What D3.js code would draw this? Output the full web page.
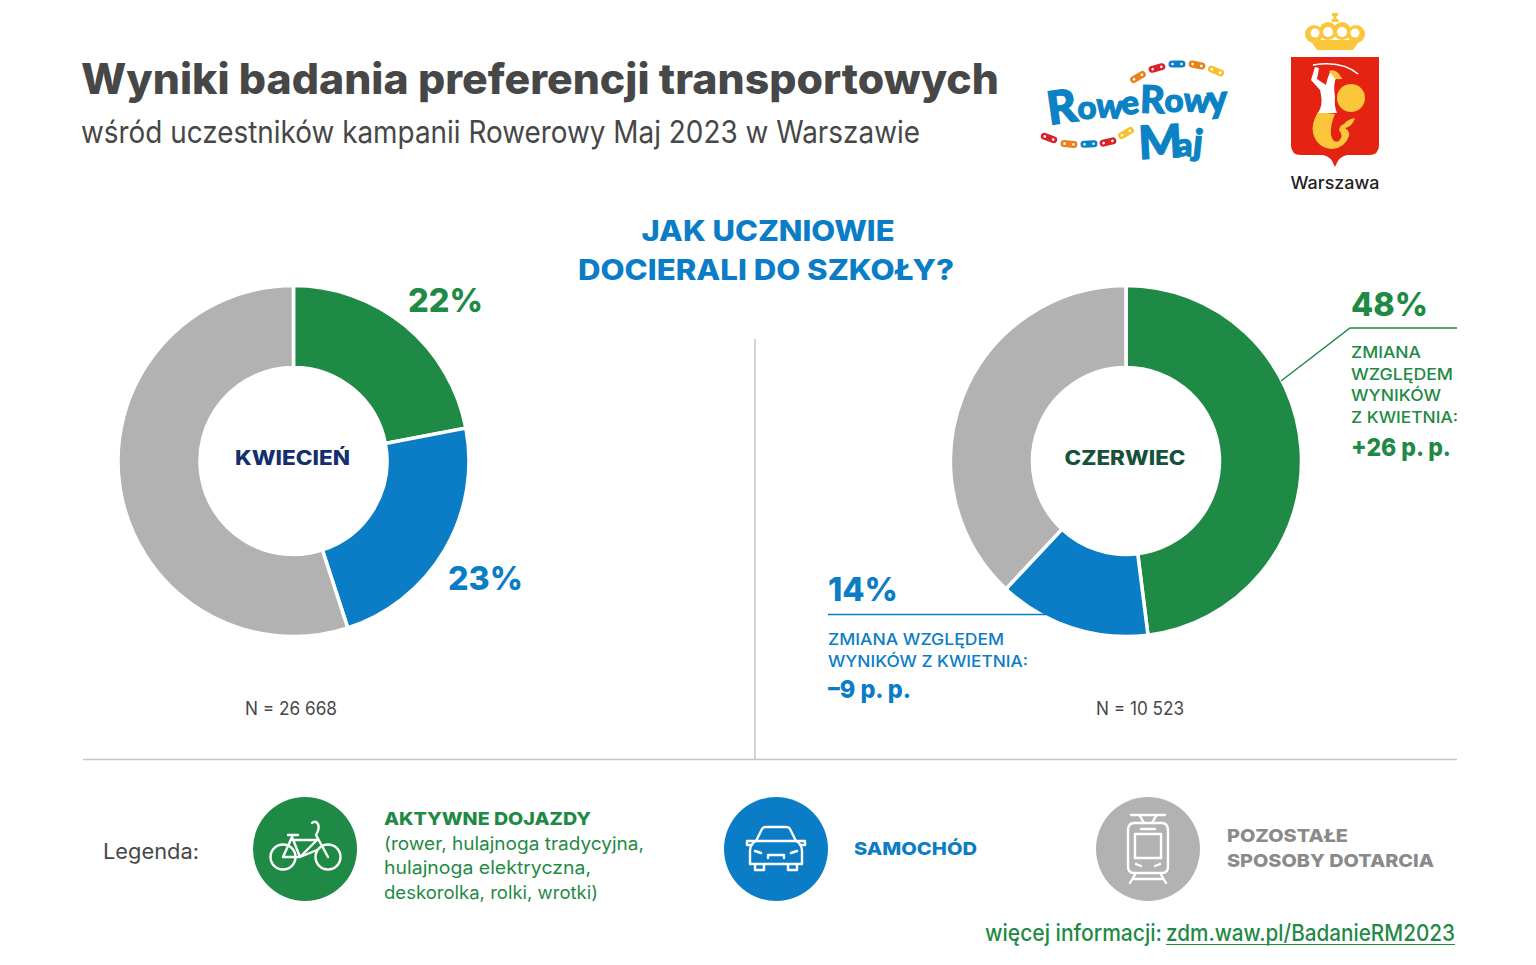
<!DOCTYPE html>
<html lang="pl"><head><meta charset="utf-8">
<script src="https://cdn.jsdelivr.net/npm/d3@7"></script>
<style>html,body{margin:0;background:#fff}svg{display:block}text{font-family:Inter,"Open Sans",sans-serif}</style>
</head><body><svg id="c" width="1536" height="965"></svg>
<script>
const categories=["AKTYWNE DOJAZDY","SAMOCHÓD","POZOSTAŁE SPOSOBY DOTARCIA"];
const aprilValues=[22,23,55];
const juneValues=[48,14,38];
const colors=["#1f8a45","#0b7dc6","#b2b2b2"];
const months=["KWIECIEŃ","CZERWIEC"];
const sampleLabels=["N = 26 668","N = 10 523"];

const svg=d3.select("#c");
function T(x,y,s,o={}){
  const t=svg.append("text").attr("x",x).attr("y",y).text(s)
    .attr("font-size",o.size||16).attr("font-weight",o.w||400).attr("fill",o.fill||"#444")
    .attr("text-anchor",o.anchor||"start");
  if(o.len){t.attr("textLength",o.len).attr("lengthAdjust","spacingAndGlyphs");}
  return t;
}
T(81,94,"Wyniki badania preferencji transportowych",{size:42,w:800,fill:"#474747",len:918});
T(81,143,"wśród uczestników kampanii Rowerowy Maj 2023 w Warszawie",{size:31,fill:"#474747",len:839});
T(768,241,"JAK UCZNIOWIE",{size:28,w:800,fill:colors[1],anchor:"middle",len:253});
T(766,280,"DOCIERALI DO SZKOŁY?",{size:28,w:800,fill:colors[1],anchor:"middle",len:376});

const pie=d3.pie().sort(null).value(d=>d);
const arc=d3.arc().innerRadius(93.5).outerRadius(175.5);
[[aprilValues,293.5,461,"#14306b"],[juneValues,1126,461,"#17503b"]].forEach(([vals,cx,cy,tc],i)=>{
  const g=svg.append("g").attr("transform",`translate(${cx},${cy})`);
  g.selectAll("path").data(pie(vals)).join("path").attr("d",arc)
   .attr("fill",(d,j)=>colors[j]).attr("stroke","#fff").attr("stroke-width",3.5);
  T(cx-1,cy+4,months[i],{size:20,w:800,fill:tc,anchor:"middle",len:i?121:115});
});
T(291,715,sampleLabels[0],{size:18,fill:"#474747",anchor:"middle",len:92});
T(1140,715,sampleLabels[1],{size:18,fill:"#474747",anchor:"middle",len:88});

T(408,312,aprilValues[0]+"%",{size:33,w:800,fill:colors[0],len:75});
T(448,590,aprilValues[1]+"%",{size:33,w:800,fill:colors[1],len:75});
T(1351,316,juneValues[0]+"%",{size:33,w:800,fill:colors[0],len:77});
T(828,601,juneValues[1]+"%",{size:33,w:800,fill:colors[1],len:70});

svg.append("polyline").attr("points","1281,381 1350,328 1457,328").attr("fill","none").attr("stroke",colors[0]).attr("stroke-width",1.5);
svg.append("line").attr("x1",828).attr("x2",1046).attr("y1",614.5).attr("y2",614.5).attr("stroke",colors[1]).attr("stroke-width",1.5);
[["ZMIANA",358,70],["WZGLĘDEM",380,102],["WYNIKÓW",401,90],["Z KWIETNIA:",423,107]].forEach(([s,y,l])=>T(1351,y,s,{size:16,w:500,fill:colors[0],len:l}));
T(1351,456,"+26 p. p.",{size:25,w:800,fill:colors[0],len:100});
T(828,645,"ZMIANA WZGLĘDEM",{size:16,w:500,fill:colors[1],len:176});
T(828,667,"WYNIKÓW Z KWIETNIA:",{size:16,w:500,fill:colors[1],len:200});
T(828,698,"–9 p. p.",{size:25,w:800,fill:colors[1],len:83});

svg.append("line").attr("x1",755).attr("x2",755).attr("y1",339).attr("y2",759).attr("stroke","#c6c6c6").attr("stroke-width",1.5);
svg.append("line").attr("x1",83).attr("x2",1457).attr("y1",759.5).attr("y2",759.5).attr("stroke","#c6c6c6").attr("stroke-width",1.5);

T(103,859,"Legenda:",{size:21,fill:"#474747",len:96});
[[305,colors[0]],[776,colors[1]],[1148,colors[2]]].forEach(([x,c])=>svg.append("circle").attr("cx",x).attr("cy",849).attr("r",52).attr("fill",c));
const ic=(x,y)=>svg.append("g").attr("transform",`translate(${x},${y})`).attr("fill","none").attr("stroke","#fff").attr("stroke-width",2.4).attr("stroke-linecap","round").attr("stroke-linejoin","round");
const b=ic(305,849);
b.append("circle").attr("cx",-22).attr("cy",8).attr("r",12.5);
b.append("circle").attr("cx",23).attr("cy",8).attr("r",12.5);
b.append("path").attr("d","M-22 8 L-13 -12 L-5 8 Z M-17 -14 H-7 M-5 8 L12 -9 M-5 8 L12 1 M-12 -9 L12 -9 M11 -14 L23 8 M11 -14 Q15 -21 13 -25 Q10 -29 7 -26");
const k=ic(776,849);
k.append("path").attr("d","M-20 -8 L-14 -20 Q-13 -22 -10 -22 H10 Q13 -22 14 -20 L20 -8 M-20 -8 Q-26 -5 -26 2 V15 H26 V2 Q26 -5 20 -8 Z M-20 -8 L-29 -8 V-4 L-24 -4 M20 -8 L29 -8 V-4 L24 -4 M-21 15 V21 H-12 V15 M21 15 V21 H12 V15 M-21 2 L-15 4 M21 2 L15 4 M-8 9 V6 H8 V9");
const r=ic(1148,849);
r.append("path").attr("d","M-17 -34 H17 M-8 -33 L-4 -26 M8 -33 L4 -26 M-14 -26 H14 Q20 -26 20 -18 V18 Q20 24 14 24 H-14 Q-20 24 -20 18 V-18 Q-20 -26 -14 -26 Z M-13 -15 H13 V9 H-13 Z M-7 -20 H7 M-12 15 L-7 17 M12 15 L7 17 M-12 24 L-18 34 M12 24 L18 34 M-15 30 H15");

T(384,825,categories[0],{size:18,w:800,fill:colors[0],len:207});
["(rower, hulajnoga tradycyjna,","hulajnoga elektryczna,","deskorolka, rolki, wrotki)"].forEach((s,i)=>T(384,[850,874,899][i],s,{size:18,fill:colors[0],len:[260,207,214][i]}));
T(854,855,categories[1],{size:18,w:800,fill:colors[1],len:123});
T(1227,842,"POZOSTAŁE",{size:18,w:800,fill:"#8a8a8a",len:121});
T(1227,867,"SPOSOBY DOTARCIA",{size:18,w:800,fill:"#8a8a8a",len:207});

T(985,941,"więcej informacji:",{size:23,w:500,fill:colors[0],len:177});
T(1166,941,"zdm.waw.pl/BadanieRM2023",{size:23,w:500,fill:colors[0],len:289});
svg.append("line").attr("x1",1166).attr("x2",1455).attr("y1",944.5).attr("y2",944.5).attr("stroke",colors[0]).attr("stroke-width",1.2);

const lb="#0a82c4";
const L=svg.append("g");
[["R",1064,123,46,-8],["o",1087,119,33,0],["w",1109,118,34,4],["e",1131,114,33,-6],["R",1152,113,38,2],["o",1174,112,33,0],["w",1196,112,33,5],["y",1218,112,38,-4],["M",1161,158,46,-3],["a",1184,156,32,2],["j",1197,155,36,6]].forEach(([s,x,y,sz,rot])=>{
  L.append("text").attr("transform",`translate(${x},${y}) rotate(${rot})`).attr("text-anchor","middle").attr("font-size",sz).attr("font-weight",900).attr("fill",lb).attr("stroke",lb).attr("stroke-width",1.2).style("font-family","Lato").text(s);
});
const chain=[[1138,77,-30,"#e8821e"],[1157,68,-15,"#d8232a"],[1177,64,0,"#0a82c4"],[1197,65,12,"#e8821e"],[1216,71,22,"#f5c22e"],[1049,138,20,"#d8232a"],[1069,144,5,"#e8821e"],[1089,144,-4,"#0a82c4"],[1108,142,-14,"#d8232a"],[1126,133,-30,"#f5c22e"]];
chain.forEach(([x,y,a,c])=>{
  const g=L.append("g").attr("transform",`translate(${x},${y}) rotate(${a})`);
  g.append("rect").attr("x",-8.5).attr("y",-3.5).attr("width",17).attr("height",7).attr("rx",3.5).attr("fill",c);
  [-4.5,4.5].forEach(d=>g.append("circle").attr("cx",d).attr("r",1.3).attr("fill","#fff"));
});

const C=svg.append("g");
const gold="#fcc63b";
C.append("path").attr("fill",gold).attr("d","M1332 13 h6 v3 h-1.5 v3 h2 v3 h-7 v-3 h2 v-3 h-1.5 Z");
[[1314,34,9],[1328,31,9],[1342,31,9],[1356,34,9]].forEach(([x,y,rr])=>C.append("circle").attr("cx",x).attr("cy",y).attr("r",rr).attr("fill",gold));
C.append("path").attr("fill",gold).attr("d","M1310 40 L1317 50 H1353 L1360 40 Z");
[[1315,33,4.5],[1328,32,5],[1342,32,5],[1355,33,4.5]].forEach(([x,y,rr])=>C.append("circle").attr("cx",x).attr("cy",y).attr("r",rr).attr("fill","#fff"));
C.append("path").attr("fill","#e42313").attr("d","M1291 57 H1379 V145 Q1379 155 1369 155 H1347 Q1339 156 1335 167 Q1331 156 1323 155 H1301 Q1291 155 1291 145 Z");
C.append("circle").attr("cx",1351).attr("cy",98).attr("r",14).attr("fill",gold);
C.append("path").attr("fill",gold).attr("d","M1318 112 Q1311 124 1313 133 Q1317 148 1332 149 Q1345 148 1349 136 Q1350 131 1345 128 Q1352 127 1355 118 Q1348 119 1344 124 Q1340 125 1339 130 Q1344 136 1339 141 Q1333 144 1331 135 Q1330 125 1335 114 Z");
C.append("path").attr("fill","#fff").attr("d","M1337 113 H1318 Q1323 105 1321 95 L1320 90 L1311 80 L1315 67 L1319 68 L1317 79 L1326 85 Q1327 79 1330 72 Q1335 72 1336 78 Q1333 84 1335 97 Q1334 106 1337 113 Z");
C.append("path").attr("fill",gold).attr("d","M1329 71 Q1336 68 1341 77 Q1344 79 1340 79 Q1335 80 1333 76 Z");
C.append("path").attr("fill","none").attr("stroke","#fff").attr("stroke-width",1.6).attr("d","M1313 65 Q1342 60 1358 74");
T(1335,189,"Warszawa",{size:17,w:500,fill:"#222",anchor:"middle",len:89});
</script></body></html>
